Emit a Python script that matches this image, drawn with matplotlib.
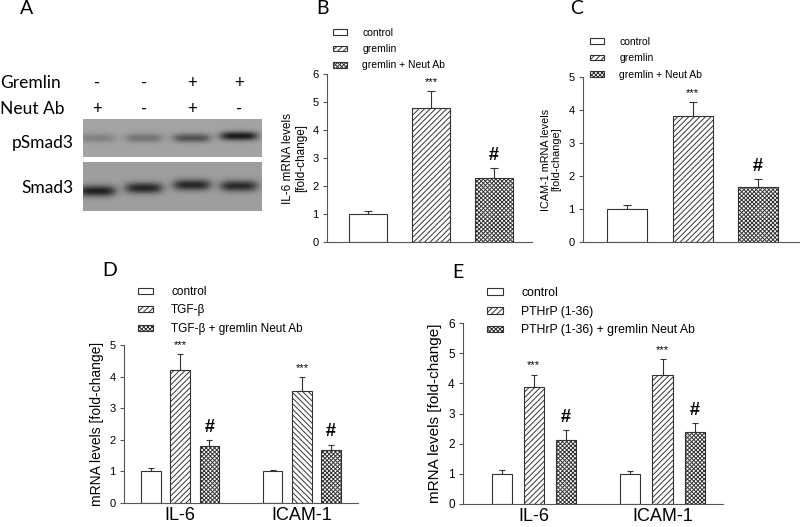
import numpy as np
import matplotlib
matplotlib.use("Agg")
import matplotlib.pyplot as plt

plt.rcParams["font.family"] = ["Liberation Sans", "DejaVu Sans"]
plt.rcParams["hatch.linewidth"] = 0.7

# --- data ---
lanes_gremlin = ["-", "-", "+", "+"]
lanes_neut = ["+", "-", "+", "-"]
psmad3_band = [0.25, 0.35, 0.6, 1.0]   # relative band darkness
smad3_band = [0.95, 0.9, 0.9, 0.88]
smad3_shift = [0, -3, -6, -5]          # band drift (px) in the scan

b_labels = ["control", "gremlin", "gremlin + Neut Ab"]
b_vals = [1.0, 4.8, 2.3]
b_err = [0.12, 0.6, 0.35]

c_labels = ["control", "gremlin", "gremlin + Neut Ab"]
c_vals = [1.0, 3.82, 1.68]
c_err = [0.13, 0.43, 0.23]

genes = ["IL-6", "ICAM-1"]
d_labels = ["control", "TGF-β", "TGF-β + gremlin Neut Ab"]
d_vals = {"control": [1.0, 1.0], "TGF-β": [4.21, 3.56], "TGF-β + gremlin Neut Ab": [1.79, 1.68]}
d_err = {"control": [0.12, 0.06], "TGF-β": [0.51, 0.42], "TGF-β + gremlin Neut Ab": [0.21, 0.17]}

e_labels = ["control", "PTHrP (1-36)", "PTHrP (1-36) + gremlin Neut Ab"]
e_vals = {"control": [1.0, 1.0], "PTHrP (1-36)": [3.89, 4.28], "PTHrP (1-36) + gremlin Neut Ab": [2.11, 2.4]}
e_err = {"control": [0.12, 0.1], "PTHrP (1-36)": [0.4, 0.53], "PTHrP (1-36) + gremlin Neut Ab": [0.35, 0.28]}

W, H = 800, 527
fig = plt.figure(figsize=(W / 100, H / 100), dpi=100)


def fx(x):
    return x / W


def fy(y):
    return 1 - y / H


def px_axes(left, right, top, bottom):
    return fig.add_axes([fx(left), fy(bottom), (right - left) / W, (bottom - top) / H])


def style_axes(ax, tick_size):
    for s in ["top", "right"]:
        ax.spines[s].set_visible(False)
    for s in ["left", "bottom"]:
        ax.spines[s].set_color("#555555")
        ax.spines[s].set_linewidth(0.8)
    ax.tick_params(axis="y", direction="out", length=3, width=0.8, colors="#555555",
                   labelsize=tick_size, labelcolor="black", pad=3)
    ax.tick_params(axis="x", length=0, labelcolor="black")


STRIPE = "//////"
BACK = "\\\\\\\\\\\\"
CROSS = "xxxxxxxx"
hatches = ["", STRIPE, CROSS]
edge = "#333333"


def sig(ax, x, top, star):
    if star == "***":
        ax.annotate("***", (x, top), xytext=(0, 3), textcoords="offset points",
                    ha="center", va="bottom", fontsize=8)
    else:
        ax.annotate("#", (x, top), xytext=(0, 3), textcoords="offset points",
                    ha="center", va="bottom", fontsize=13, fontweight="bold")


def legend(ax, handles, labels, x, y, size, spacing):
    ax.legend(handles, labels, loc="upper left", bbox_to_anchor=(fx(x), fy(y)),
              bbox_transform=fig.transFigure, frameon=False, fontsize=size,
              handlelength=1.3, handleheight=0.45, handletextpad=1.5,
              labelspacing=spacing, borderpad=0, borderaxespad=0)


# ---------------- panel A: western blot ----------------
fig.text(fx(27), fy(9), "A", fontsize=14, family="Lato", ha="center", va="center")
cols = [97, 144, 192, 239]
fig.text(fx(0), fy(83), "Gremlin", fontsize=12.5, family="Lato", va="center")
fig.text(fx(0), fy(109), "Neut Ab", fontsize=12.5, family="Lato", va="center")
for cx, g, n in zip(cols, lanes_gremlin, lanes_neut):
    fig.text(fx(cx), fy(83), g, fontsize=12, family="Lato", ha="center", va="center")
    fig.text(fx(cx), fy(109), n, fontsize=12, family="Lato", ha="center", va="center")
fig.text(fx(74), fy(143), "pSmad3", fontsize=12.5, family="Lato", ha="right", va="center")
fig.text(fx(74), fy(188), "Smad3", fontsize=12.5, family="Lato", ha="right", va="center")


def blot(top, bottom, bands, centre_y, shifts, bg, half_w, half_h):
    ax = px_axes(83, 262, top, bottom)
    xx, yy = np.meshgrid(np.arange(83, 262) + 0.5, np.arange(top, bottom) + 0.5)
    img = np.full(xx.shape, bg)
    for cx, amp, dy in zip(cols, bands, shifts):
        shape = np.exp(-((xx - cx) / half_w) ** 4) * np.exp(-((yy - centre_y - dy) / half_h) ** 2)
        img -= amp * (bg - 0.1) * shape
    ax.imshow(img, cmap="gray", vmin=0, vmax=1, aspect="auto", interpolation="bilinear")
    ax.set_axis_off()


blot(119, 157, psmad3_band, 138, [0, 0, 0, -2], 0.64, 19, 4.5)
blot(162, 211, smad3_band, 191, smad3_shift, 0.62, 19, 5.5)

# ---------------- panel B ----------------
fig.text(fx(322), fy(9), "B", fontsize=14, family="Lato", ha="center", va="center")
ax = px_axes(327, 532, 74, 242)
style_axes(ax, 8)
x = np.arange(len(b_vals))
bars = []
for i in range(len(b_vals)):
    bars.append(ax.bar(x[i], b_vals[i], width=0.6, color="white", edgecolor=edge,
                       hatch=hatches[i], linewidth=0.8, zorder=2))
ax.errorbar(x, b_vals, yerr=[np.zeros(3), b_err], fmt="none", ecolor=edge,
            elinewidth=0.8, capsize=3, capthick=0.8, zorder=1)
sig(ax, x[1], b_vals[1] + b_err[1], "***")
sig(ax, x[2], b_vals[2] + b_err[2], "#")
ax.set_ylim(0, 6)
ax.set_xlim(-0.65, 2.6)
ax.set_xticks([])
ax.set_ylabel("IL-6 mRNA levels\n[fold-change]", fontsize=8.5, labelpad=4, linespacing=1.1)
legend(ax, bars, b_labels, 333, 28, 7.5, 0.6)

# ---------------- panel C ----------------
fig.text(fx(577), fy(9), "C", fontsize=14, family="Lato", ha="center", va="center")
ax = px_axes(583, 799, 77, 242)
style_axes(ax, 8)
x = np.arange(len(c_vals))
bars = []
for i in range(len(c_vals)):
    bars.append(ax.bar(x[i], c_vals[i], width=0.61, color="white", edgecolor=edge,
                       hatch=hatches[i], linewidth=0.8, zorder=2))
ax.errorbar(x, c_vals, yerr=[np.zeros(3), c_err], fmt="none", ecolor=edge,
            elinewidth=0.8, capsize=3, capthick=0.8, zorder=1)
sig(ax, x[1], c_vals[1] + c_err[1], "***")
sig(ax, x[2], c_vals[2] + c_err[2], "#")
ax.set_ylim(0, 5)
ax.set_xlim(-0.68, 2.63)
ax.set_xticks([])
ax.set_ylabel("ICAM-1 mRNA levels\n[fold-change]", fontsize=7.8, labelpad=5, linespacing=1.1)
legend(ax, bars, c_labels, 590, 37, 7.5, 0.6)


# ---------------- panels D and E ----------------
def grouped(ax, labels, vals, err, offset, width, hatch_list):
    g = np.arange(len(genes))
    bars = []
    for k, lab in enumerate(labels):
        pos = g + (k - 1) * offset
        b = ax.bar(pos, vals[lab], width=width, color="white", edgecolor=edge,
                   linewidth=0.8, zorder=2)
        for patch, h in zip(b.patches, hatch_list[k]):
            patch.set_hatch(h)
        bars.append(b)
        ax.errorbar(pos, vals[lab], yerr=[np.zeros(len(genes)), err[lab]], fmt="none",
                    ecolor=edge, elinewidth=0.8, capsize=2.5, capthick=0.8, zorder=1)
        for p, v, e in zip(pos, vals[lab], err[lab]):
            if k == 1:
                sig(ax, p, v + e, "***")
            elif k == 2:
                sig(ax, p, v + e, "#")
    ax.set_xticks(g)
    ax.set_xticklabels(genes, fontsize=13)
    ax.tick_params(axis="x", pad=3)
    return bars


fig.text(fx(110), fy(271), "D", fontsize=14, family="Lato", ha="center", va="center")
ax = px_axes(124, 358, 345, 503)
style_axes(ax, 8)
bars = grouped(ax, d_labels, d_vals, d_err, 0.24, 0.16,
               [["", ""], [STRIPE, BACK], [CROSS, CROSS]])
ax.set_ylim(0, 5)
ax.set_xlim(-0.46, 1.46)
ax.set_ylabel("mRNA levels [fold-change]", fontsize=10, labelpad=4)
legend(ax, bars, d_labels, 138, 286, 8.5, 0.55)

fig.text(fx(458), fy(272), "E", fontsize=14, family="Lato", ha="center", va="center")
ax = px_axes(463, 723, 323, 504)
style_axes(ax, 8.5)
bars = grouped(ax, e_labels, e_vals, e_err, 0.25, 0.157,
               [["", ""], [STRIPE, STRIPE], [CROSS, CROSS]])
ax.set_ylim(0, 6)
ax.set_xlim(-0.55, 1.47)
ax.set_ylabel("mRNA levels [fold-change]", fontsize=11, labelpad=4)
legend(ax, bars, e_labels, 487, 287, 8.8, 0.55)

fig.savefig("out.png", dpi=100)
